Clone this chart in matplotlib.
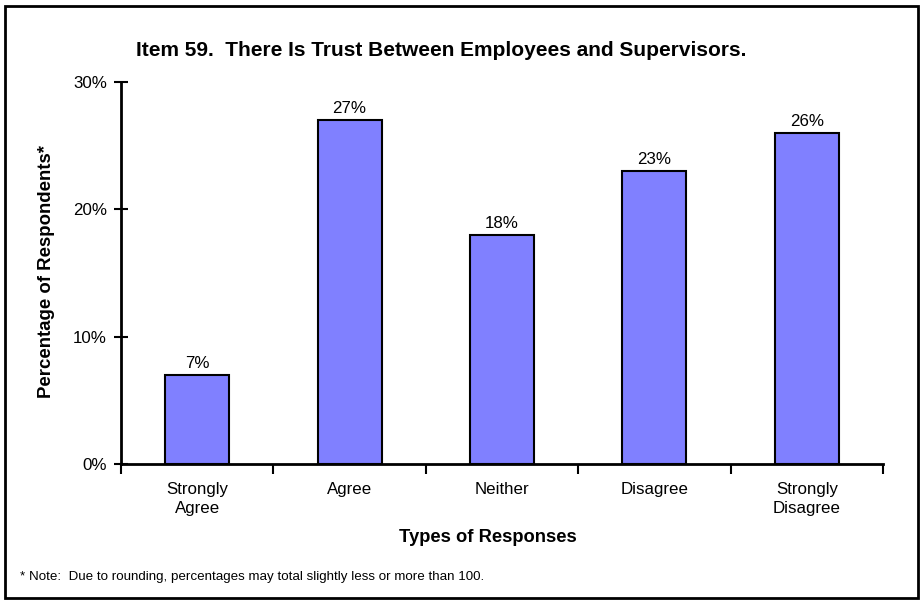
import matplotlib.pyplot as plt
import numpy as np
from matplotlib.patches import Rectangle

plt.rcParams['font.family'] = ['Liberation Sans', 'DejaVu Sans']

categories = ['Strongly\nAgree', 'Agree', 'Neither', 'Disagree', 'Strongly\nDisagree']
values = [7, 27, 18, 23, 26]
yticks = [0, 10, 20, 30]

fig = plt.figure(figsize=(9.23, 6.06), dpi=100)
W, H = 923, 606
ax = fig.add_axes([121 / W, 1 - 464 / H, (883 - 121) / W, (464 - 82) / H])

x = np.arange(len(categories))
bars = ax.bar(x, values, width=0.42, color='#8080FF', edgecolor='black', linewidth=1.5)

for b, v in zip(bars, values):
    ax.annotate('{}%'.format(v), xy=(b.get_x() + b.get_width() / 2, v),
                xytext=(0, 3), textcoords='offset points',
                ha='center', va='bottom', fontsize=12.2)

ax.set_xlim(-0.5, len(categories) - 0.5)
ax.set_ylim(0, 30)
ax.set_yticks(yticks)
ax.set_yticklabels(['{}%'.format(t) for t in yticks], fontsize=12.2)
ax.set_xticks(np.arange(len(categories) + 1) - 0.5)
ax.set_xticklabels([])
ax.set_xticks(x, minor=True)
ax.set_xticklabels(categories, minor=True, fontsize=12.2, linespacing=1.35)
ax.tick_params(axis='x', which='minor', length=0, pad=13)
ax.tick_params(axis='x', which='major', direction='out', length=7, width=1.5)
ax.tick_params(axis='y', direction='inout', length=10, width=1.5, pad=5)

for s in ['top', 'right']:
    ax.spines[s].set_visible(False)
for s in ['left', 'bottom']:
    ax.spines[s].set_linewidth(2)

fig.text(441 / W, 1 - 50 / H, 'Item 59.  There Is Trust Between Employees and Supervisors.',
         ha='center', va='center', fontsize=15, fontweight='bold')
fig.text(47 / W, 1 - 271 / H, 'Percentage of Respondents*', rotation=90,
         ha='center', va='center', fontsize=13.4, fontweight='bold')
fig.text(488 / W, 1 - 538 / H, 'Types of Responses',
         ha='center', va='center', fontsize=13.2, fontweight='bold')
fig.text(20 / W, 1 - 577 / H,
         '* Note:  Due to rounding, percentages may total slightly less or more than 100.',
         ha='left', va='center', fontsize=9.6)

fig.patches.append(Rectangle((5 / W, 1 - 598 / H), (918 - 5) / W, (598 - 6) / H,
                             transform=fig.transFigure, fill=False,
                             edgecolor='black', linewidth=2))

plt.savefig('out.png', dpi=100)
